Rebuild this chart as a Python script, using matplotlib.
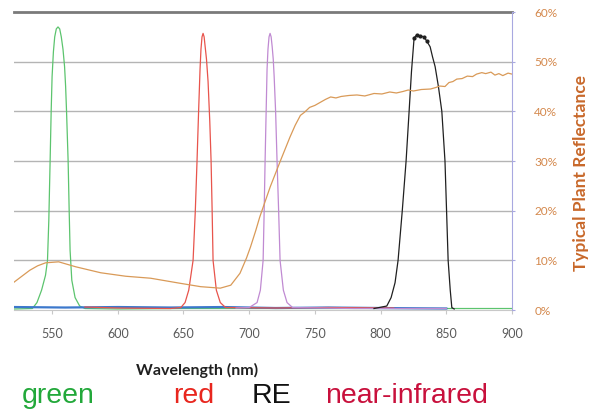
import matplotlib
matplotlib.use("Agg")
from matplotlib import pyplot as plt
from matplotlib.ticker import FuncFormatter

# filter transmission curves (wavelength nm, %)
green_wl = [521, 535, 538.5, 542, 545, 546.5, 547.5, 548.5, 549.3, 550, 551, 552, 553.2, 554.5, 555.8,
            557, 558.3, 559.5, 560.3, 561, 562.2, 563, 563.7, 565, 567.5, 571, 575, 600, 650, 700,
            750, 800, 850, 900]
green_val = [0.2, 0.3, 1.5, 4, 7, 10, 18, 30, 40, 47, 52, 55, 56.6, 57, 56.6,
             55, 52.5, 49, 45, 40, 30, 20, 12, 6, 2.5, 0.8, 0.3, 0.2, 0.3, 0.3,
             0.3, 0.3, 0.3, 0.3]

blue_wl = [521, 560, 600, 640, 680, 720, 760, 800, 850]
blue_val = [0.6, 0.5, 0.6, 0.5, 0.6, 0.4, 0.5, 0.4, 0.3]

red_wl = [575, 600, 640, 648, 651.2, 654, 657.3, 659, 660.3, 661.5, 662.6, 663.3, 664.1, 664.9, 665.7,
          666.5, 667.5, 668.7, 670, 671, 671.8, 672.5, 675, 678, 682, 720, 760, 810]
red_val = [0.6, 0.4, 0.3, 0.5, 1.5, 4, 10, 20, 30, 40, 48.5, 52.5, 55, 55.7, 55,
           53, 50.5, 46, 38, 30, 20, 10, 4, 1.5, 0.5, 0.4, 0.5, 0.4]

re_wl = [690, 700, 706, 708.5, 710.6, 711.4, 712.1, 712.9, 713.6, 714.3, 715.1, 715.9, 716.7, 717.5,
         718.3, 719, 720.1, 721.2, 722.4, 723.5, 726, 728.8, 733, 780, 850]
re_val = [0.4, 0.5, 1.5, 4, 10, 20, 30, 40, 48.5, 52.5, 55, 55.7, 55, 53,
          50.5, 47, 40, 30, 20, 10, 4, 1.5, 0.5, 0.3, 0.3]

nir_wl = [795, 804.7, 808, 811, 813.3, 816.5, 819.4, 821.7, 823.5, 825.5, 827.5, 830, 833, 835,
          837.7, 839.5, 841.5, 844, 846.6, 849, 850.2, 851.4, 853, 854.2, 856]
nir_val = [0.3, 0.8, 2.5, 5.5, 10, 20, 30, 40, 48, 54.8, 55.4, 55.2, 55.0, 54.2,
           53, 51, 49, 45, 40, 30, 20, 10, 4, 0.5, 0.2]

# typical vegetation reflectance
refl_wl = [521, 527, 533, 539, 545, 555, 568, 587, 606, 625, 647, 663, 678, 686, 693, 698, 701, 705,
           708, 716, 724, 731, 735, 739, 742, 746, 750, 754, 758, 762, 766, 770, 776, 782, 788, 795,
           801, 807, 812, 817, 821, 825, 831, 838, 842, 845, 849, 852, 855, 858, 862, 866, 870, 873,
           877, 880, 884, 887, 890, 893, 897, 900]
refl_val = [5.6, 6.8, 8.0, 8.9, 9.5, 9.7, 8.7, 7.5, 6.8, 6.4, 5.4, 4.7, 4.4, 5.0, 7.4, 10.5, 12.7, 16,
            18.7, 24.8, 30.2, 34.8, 37.2, 39.2, 39.8, 40.8, 41.2, 41.8, 42.4, 42.9, 42.7, 43.0, 43.2,
            43.3, 43.1, 43.6, 43.5, 43.9, 43.7, 44.0, 44.3, 44.1, 44.4, 44.5, 44.8, 45.1, 45.0, 45.8,
            46.0, 46.5, 46.6, 47.1, 47.0, 47.5, 47.8, 47.6, 47.9, 47.3, 47.6, 47.2, 47.7, 47.5]

xticks = [550, 600, 650, 700, 750, 800, 850, 900]
yticks = [0, 10, 20, 30, 40, 50, 60]

fig = plt.figure(figsize=(5.95, 4.15), dpi=100)
ax = fig.add_axes([0.0235, 0.253, 0.837, 0.718])

for y in yticks[1:-1]:
    ax.axhline(y, color='#b4b4b4', lw=1, zorder=0)

ax.plot(green_wl, green_val, color='#5cc46e', lw=0.9)
ax.plot(blue_wl, blue_val, color='#3c78cc', lw=1.6)
ax.plot(red_wl, red_val, color='#e8544c', lw=0.9)
ax.plot(re_wl, re_val, color='#c08ad2', lw=0.9)
ax.plot(nir_wl, nir_val, color='#202020', lw=0.9)
ax.plot(nir_wl[9:14], nir_val[9:14], 'o', color='#202020', ms=2)

ax.set_xlim(521, 900)
ax.set_ylim(0, 60)
ax.set_xticks(xticks)
ax.set_yticks([])
ax.tick_params(axis='x', length=3, color='#c8c8c8', labelcolor='#5a5a5a', labelsize=9, pad=10)
for lab in ax.get_xticklabels():
    lab.set_family('Lato')
ax.spines['left'].set_visible(False)
ax.spines['bottom'].set_color('#c8c8c8')
ax.spines['top'].set_color('#7a7a7a')
ax.spines['top'].set_linewidth(2)
ax.spines['right'].set_visible(False)

ax2 = ax.twinx()
ax2.plot(refl_wl, refl_val, color='#d99a58', lw=0.9)
ax2.set_ylim(0, 60)
ax2.set_yticks(yticks)
ax2.yaxis.set_major_formatter(FuncFormatter(lambda v, p: '%d%%' % v))
ax2.tick_params(axis='y', length=2, color='#a8a8e0', labelcolor='#d4884c', labelsize=8.5, pad=14)
for lab in ax2.get_yticklabels():
    lab.set_family('Lato')
for s in ['left', 'top', 'bottom']:
    ax2.spines[s].set_visible(False)
ax2.spines['right'].set_color('#a8a8e0')
ax2.spines['right'].set_linewidth(0.8)
ax2.set_ylabel('Typical Plant Reflectance', color='#c8682a', fontsize=12.5,
               fontweight='bold', family='Lato')
ax2.yaxis.set_label_coords(1.122, 0.46)

fig.text(197 / 595, 1 - 370 / 415, 'Wavelength (nm)', ha='center', va='center',
         fontsize=11.5, fontweight='bold', family='Lato', color='#202020')

band_font = dict(fontsize=20.5, family='Liberation Sans', va='baseline')
fig.text(22 / 595, 1 - 403 / 415, 'green', color='#22a83a', **band_font)
fig.text(173 / 595, 1 - 403 / 415, 'red', color='#e8261e', **band_font)
fig.text(252 / 595, 1 - 403 / 415, 'RE', color='#111111', **band_font)
fig.text(325 / 595, 1 - 403 / 415, 'near-infrared', color='#c8103c', **band_font)

fig.savefig('out.png', dpi=100)
